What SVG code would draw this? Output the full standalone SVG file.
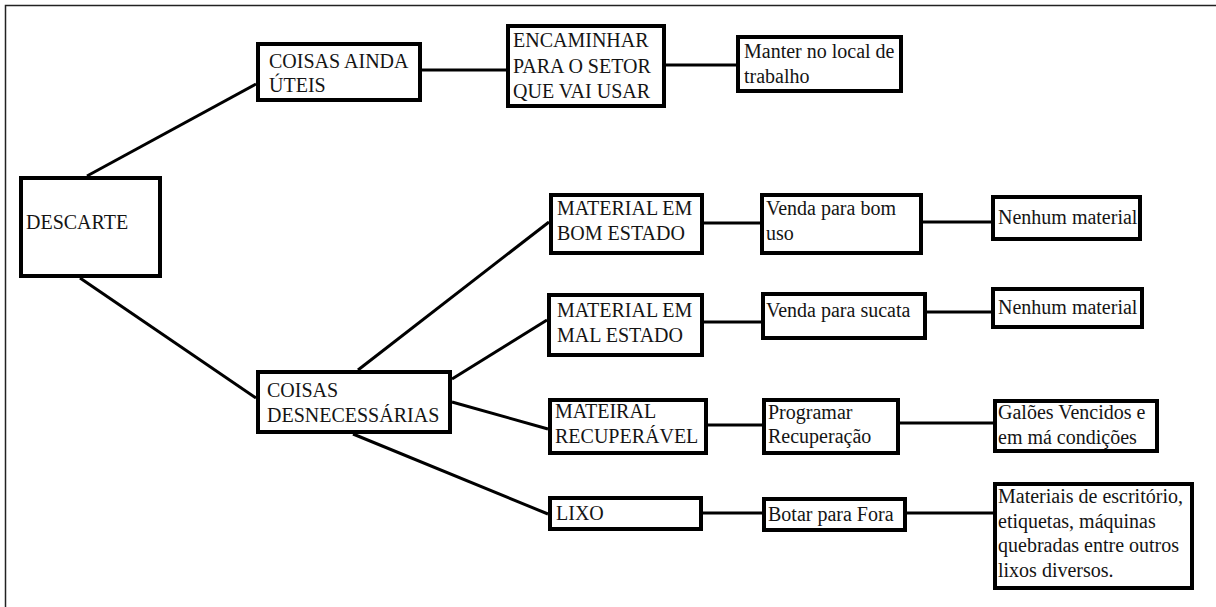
<svg xmlns="http://www.w3.org/2000/svg" width="1216" height="607" viewBox="0 0 1216 607">
  <style>
    .box { fill: #ffffff; stroke: #000000; stroke-width: 4; }
    .link { stroke: #000000; stroke-width: 3; fill: none; stroke-linecap: butt; }
    .label { font-family: 'Liberation Serif', 'Times New Roman', 'DejaVu Serif', serif; font-size: 20px; fill: #141414; }
    .frame { fill: none; stroke: #222222; stroke-width: 1.5; }
  </style>

  <rect width="1216" height="607" fill="#ffffff"/>
  <!-- page frame: only the top and left edges fall inside the canvas -->
  <rect class="frame" x="5.5" y="5.5" width="1230" height="620"/>

  <!-- connectors -->
  <g id="connectors">
    <line class="link" x1="87" y1="176" x2="256" y2="84"/>
    <line class="link" x1="80" y1="278" x2="256" y2="398"/>
    <line class="link" x1="422" y1="70" x2="506" y2="70"/>
    <line class="link" x1="666" y1="65" x2="736" y2="65"/>
    <line class="link" x1="358" y1="370" x2="549" y2="222"/>
    <line class="link" x1="452" y1="379" x2="547" y2="320"/>
    <line class="link" x1="452" y1="402" x2="548" y2="429"/>
    <line class="link" x1="353" y1="434" x2="548" y2="514"/>
    <line class="link" x1="704" y1="223" x2="760" y2="223"/>
    <line class="link" x1="923" y1="222" x2="991" y2="222"/>
    <line class="link" x1="704" y1="322" x2="761" y2="322"/>
    <line class="link" x1="927" y1="312" x2="991" y2="312"/>
    <line class="link" x1="708" y1="425" x2="762" y2="425"/>
    <line class="link" x1="900" y1="423" x2="993" y2="423"/>
    <line class="link" x1="703" y1="513" x2="762" y2="513"/>
    <line class="link" x1="907" y1="513" x2="993" y2="513"/>
  </g>

  <g id="descarte">
    <rect class="box" x="21" y="178" width="139" height="98"/>
    <text class="label" x="26" y="229">DESCARTE</text>
  </g>

  <g id="coisas-uteis">
    <rect class="box" x="258" y="44" width="162" height="56"/>
    <text class="label" x="269" y="68">COISAS AINDA<tspan x="269" y="92">ÚTEIS</tspan></text>
  </g>

  <g id="encaminhar">
    <rect class="box" x="508" y="26" width="156" height="80"/>
    <text class="label" x="513" y="47">ENCAMINHAR<tspan x="513" y="73">PARA O SETOR</tspan><tspan x="513" y="98">QUE VAI USAR</tspan></text>
  </g>

  <g id="manter">
    <rect class="box" x="738" y="37" width="163" height="54"/>
    <text class="label" x="744" y="58">Manter no local de<tspan x="744" y="83">trabalho</tspan></text>
  </g>

  <g id="coisas-desnecessarias">
    <rect class="box" x="258" y="372" width="192" height="60"/>
    <text class="label" x="267" y="397">COISAS<tspan x="267" y="422">DESNECESSÁRIAS</tspan></text>
  </g>

  <g id="bom-estado">
    <rect class="box" x="551" y="195" width="151" height="58"/>
    <text class="label" x="557" y="215">MATERIAL EM<tspan x="557" y="240">BOM ESTADO</tspan></text>
  </g>

  <g id="mal-estado">
    <rect class="box" x="549" y="295" width="153" height="60"/>
    <text class="label" x="557" y="317">MATERIAL EM<tspan x="557" y="342">MAL ESTADO</tspan></text>
  </g>

  <g id="recuperavel">
    <rect class="box" x="550" y="400" width="156" height="53"/>
    <text class="label" x="555" y="418">MATEIRAL<tspan x="555" y="443">RECUPERÁVEL</tspan></text>
  </g>

  <g id="lixo">
    <rect class="box" x="550" y="498" width="151" height="31"/>
    <text class="label" x="556" y="520">LIXO</text>
  </g>

  <g id="venda-bom-uso">
    <rect class="box" x="762" y="195" width="159" height="58"/>
    <text class="label" x="766" y="215">Venda para bom<tspan x="766" y="240">uso</tspan></text>
  </g>

  <g id="venda-sucata">
    <rect class="box" x="763" y="294" width="162" height="44"/>
    <text class="label" x="766" y="317">Venda para sucata</text>
  </g>

  <g id="programar">
    <rect class="box" x="764" y="400" width="134" height="53"/>
    <text class="label" x="768" y="419">Programar<tspan x="768" y="443">Recuperação</tspan></text>
  </g>

  <g id="botar-fora">
    <rect class="box" x="764" y="499" width="141" height="31"/>
    <text class="label" x="768" y="521">Botar para Fora</text>
  </g>

  <g id="nenhum-1">
    <rect class="box" x="993" y="197" width="147" height="42"/>
    <text class="label" x="998" y="224">Nenhum material</text>
  </g>

  <g id="nenhum-2">
    <rect class="box" x="993" y="289" width="149" height="38"/>
    <text class="label" x="998" y="314">Nenhum material</text>
  </g>

  <g id="galoes">
    <rect class="box" x="995" y="401" width="162" height="50"/>
    <text class="label" x="998" y="419">Galões Vencidos e<tspan x="998" y="444">em má condições</tspan></text>
  </g>

  <g id="materiais">
    <rect class="box" x="995" y="484" width="197" height="104"/>
    <text class="label" x="998" y="503">Materiais de escritório,<tspan x="998" y="527.5">etiquetas, máquinas</tspan><tspan x="998" y="552">quebradas entre outros</tspan><tspan x="998" y="576.5">lixos diversos.</tspan></text>
  </g>
</svg>
